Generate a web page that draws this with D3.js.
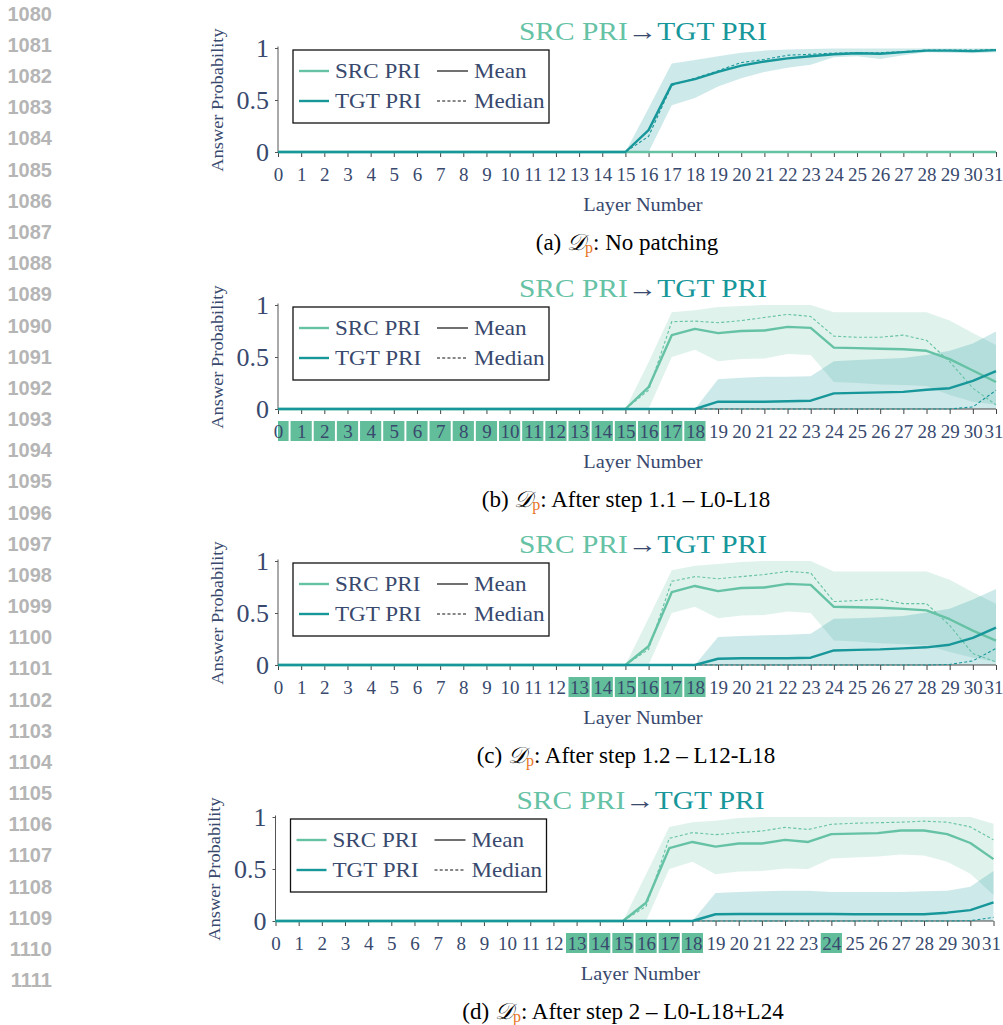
<!DOCTYPE html>
<html>
<head>
<meta charset="utf-8">
<script src="https://cdn.jsdelivr.net/npm/d3@7"></script>
<style>
  body { margin: 0; background: #fff; }
  text { font-family: "Liberation Serif", "Times New Roman", serif; }
</style>
</head>
<body>
<svg id="fig" width="1003" height="1025"></svg>
<script>
// ---- data -------------------------------------------------------------
const layers = [0,1,2,3,4,5,6,7,8,9,10,11,12,13,14,15,16,17,18,19,20,21,22,23,24,25,26,27,28,29,30,31];
const yTicks = [0, 0.5, 1];
const yTickLabels = ["0", "0.5", "1"];
const lineNumbers = [1080,1081,1082,1083,1084,1085,1086,1087,1088,1089,1090,1091,1092,1093,1094,1095,
                     1096,1097,1098,1099,1100,1101,1102,1103,1104,1105,1106,1107,1108,1109,1110,1111];
const seriesNames = ["SRC PRI", "TGT PRI"];
const statNames = ["Mean", "Median"];
const panelLetters = ["a", "b", "c", "d"];
const captionTexts = ["No patching", "After step 1.1 – L0-L18", "After step 1.2 – L12-L18", "After step 2 – L0-L18+L24"];

// (a) no patching
const srcMeanA   = [0,0,0,0,0,0,0,0,0,0,0,0,0,0,0,0,0,0,0,0,0,0,0,0,0,0,0,0,0,0,0,0];
const srcMedianA = [0,0,0,0,0,0,0,0,0,0,0,0,0,0,0,0,0,0,0,0,0,0,0,0,0,0,0,0,0,0,0,0];
const srcLoA     = [0,0,0,0,0,0,0,0,0,0,0,0,0,0,0,0,0,0,0,0,0,0,0,0,0,0,0,0,0,0,0,0];
const srcHiA     = [0,0,0,0,0,0,0,0,0,0,0,0,0,0,0,0,0,0,0,0,0,0,0,0,0,0,0,0,0,0,0,0];
const tgtMeanA   = [0,0,0,0,0,0,0,0,0,0,0,0,0,0,0,0,0.21,0.65,0.70,0.77,0.83,0.87,0.90,0.92,0.94,0.95,0.945,0.96,0.975,0.975,0.97,0.98];
const tgtMedianA = [0,0,0,0,0,0,0,0,0,0,0,0,0,0,0,0,0.15,0.64,0.71,0.78,0.86,0.89,0.93,0.94,0.95,0.955,0.955,0.965,0.98,0.98,0.98,0.985];
const tgtLoA     = [0,0,0,0,0,0,0,0,0,0,0,0,0,0,0,0,0,0.45,0.52,0.63,0.71,0.77,0.81,0.84,0.91,0.92,0.895,0.93,0.96,0.955,0.95,0.96];
const tgtHiA     = [0,0,0,0,0,0,0,0,0,0,0,0,0,0,0,0,0.42,0.85,0.885,0.92,0.955,0.975,0.985,0.99,0.995,0.995,0.995,0.995,0.995,0.995,0.995,0.995];

// (b) after step 1.1
const srcMeanB   = [0,0,0,0,0,0,0,0,0,0,0,0,0,0,0,0,0.21,0.71,0.77,0.73,0.75,0.755,0.79,0.78,0.59,0.585,0.58,0.575,0.56,0.48,0.37,0.26];
const srcMedianB = [0,0,0,0,0,0,0,0,0,0,0,0,0,0,0,0,0.18,0.84,0.845,0.83,0.85,0.88,0.91,0.89,0.70,0.69,0.69,0.71,0.66,0.455,0.20,0.04];
const srcLoB     = [0,0,0,0,0,0,0,0,0,0,0,0,0,0,0,0,0,0.50,0.57,0.46,0.48,0.485,0.53,0.52,0.26,0.25,0.235,0.23,0.22,0.135,0.07,0.04];
const srcHiB     = [0,0,0,0,0,0,0,0,0,0,0,0,0,0,0,0,0.45,0.93,0.95,0.98,0.99,1,1,1,0.93,0.93,0.93,0.93,0.93,0.85,0.73,0.615];
const tgtMeanB   = [0,0,0,0,0,0,0,0,0,0,0,0,0,0,0,0,0,0,0,0.07,0.07,0.07,0.075,0.08,0.15,0.155,0.16,0.165,0.185,0.20,0.27,0.365];
const tgtMedianB = [0,0,0,0,0,0,0,0,0,0,0,0,0,0,0,0,0,0,0,0,0,0,0,0,0,0,0,0,0,0,0.02,0.18];
const tgtLoB     = [0,0,0,0,0,0,0,0,0,0,0,0,0,0,0,0,0,0,0,0,0,0,0,0,0,0,0,0,0,0,0,0];
const tgtHiB     = [0,0,0,0,0,0,0,0,0,0,0,0,0,0,0,0,0,0,0,0.285,0.30,0.31,0.31,0.315,0.46,0.47,0.48,0.49,0.52,0.56,0.63,0.745];

// (c) after step 1.2
const srcMeanC   = [0,0,0,0,0,0,0,0,0,0,0,0,0,0,0,0,0.18,0.70,0.76,0.71,0.74,0.745,0.78,0.77,0.56,0.555,0.55,0.54,0.525,0.44,0.33,0.235];
const srcMedianC = [0,0,0,0,0,0,0,0,0,0,0,0,0,0,0,0,0.15,0.805,0.85,0.83,0.85,0.87,0.90,0.885,0.61,0.62,0.635,0.59,0.59,0.38,0.11,0.03];
const srcLoC     = [0,0,0,0,0,0,0,0,0,0,0,0,0,0,0,0,0,0.50,0.56,0.45,0.475,0.48,0.515,0.50,0.235,0.225,0.21,0.20,0.19,0.125,0.07,0.03];
const srcHiC     = [0,0,0,0,0,0,0,0,0,0,0,0,0,0,0,0,0.45,0.91,0.955,0.97,0.99,1,1,1,0.90,0.90,0.90,0.90,0.90,0.82,0.70,0.59];
const tgtMeanC   = [0,0,0,0,0,0,0,0,0,0,0,0,0,0,0,0,0,0,0,0.06,0.065,0.065,0.065,0.07,0.14,0.145,0.15,0.16,0.17,0.195,0.26,0.36];
const tgtMedianC = [0,0,0,0,0,0,0,0,0,0,0,0,0,0,0,0,0,0,0,0,0,0,0,0,0,0,0,0,0,0.005,0.04,0.16];
const tgtLoC     = [0,0,0,0,0,0,0,0,0,0,0,0,0,0,0,0,0,0,0,0,0,0,0,0,0,0,0,0,0,0,0,0];
const tgtHiC     = [0,0,0,0,0,0,0,0,0,0,0,0,0,0,0,0,0,0,0,0.27,0.28,0.285,0.29,0.30,0.445,0.45,0.46,0.47,0.505,0.54,0.63,0.73];

// (d) after step 2
const srcMeanD   = [0,0,0,0,0,0,0,0,0,0,0,0,0,0,0,0,0.175,0.70,0.76,0.715,0.745,0.745,0.78,0.76,0.835,0.84,0.845,0.87,0.87,0.835,0.75,0.595];
const srcMedianD = [0,0,0,0,0,0,0,0,0,0,0,0,0,0,0,0,0.14,0.795,0.85,0.83,0.85,0.865,0.90,0.88,0.93,0.94,0.945,0.95,0.96,0.95,0.905,0.78];
const srcLoD     = [0,0,0,0,0,0,0,0,0,0,0,0,0,0,0,0,0,0.50,0.57,0.45,0.475,0.48,0.505,0.50,0.60,0.61,0.62,0.64,0.63,0.57,0.455,0.25];
const srcHiD     = [0,0,0,0,0,0,0,0,0,0,0,0,0,0,0,0,0.45,0.905,0.95,0.965,0.99,1,1,1,1,1,1,1,1,1,1,0.935];
const tgtMeanD   = [0,0,0,0,0,0,0,0,0,0,0,0,0,0,0,0,0,0,0,0.065,0.067,0.067,0.067,0.067,0.067,0.065,0.065,0.065,0.065,0.08,0.105,0.18];
const tgtMedianD = [0,0,0,0,0,0,0,0,0,0,0,0,0,0,0,0,0,0,0,0,0,0,0,0,0,0,0,0,0,0,0.003,0.035];
const tgtLoD     = [0,0,0,0,0,0,0,0,0,0,0,0,0,0,0,0,0,0,0,0,0,0,0,0,0,0,0,0,0,0,0,0];
const tgtHiD     = [0,0,0,0,0,0,0,0,0,0,0,0,0,0,0,0,0,0,0,0.27,0.28,0.285,0.29,0.29,0.28,0.28,0.28,0.28,0.285,0.29,0.33,0.48];

// patched layers shown as shaded tick labels
const patchedA = [];
const patchedB = [0,1,2,3,4,5,6,7,8,9,10,11,12,13,14,15,16,17,18];
const patchedC = [13,14,15,16,17,18];
const patchedD = [13,14,15,16,17,18,24];

// ---- style ------------------------------------------------------------
const SERIF = "'Liberation Serif', 'Times New Roman', serif";
const SRC = "#66c2a5";
const TGT = "#17979a";
const INK = "#38496d";
const PATCH = "#62bd9b";
const CM_STRETCH = 1.1;   // widen serif text to Computer Modern proportions

const panels = [
  { letter: panelLetters[0], box: {left: 278, right: 996, top: 48, bottom: 152},
    src: {mean: srcMeanA, median: srcMedianA, lo: srcLoA, hi: srcHiA},
    tgt: {mean: tgtMeanA, median: tgtMedianA, lo: tgtLoA, hi: tgtHiA},
    patched: patchedA, caption: captionTexts[0], capX: 627 },
  { letter: panelLetters[1], box: {left: 278, right: 996, top: 305, bottom: 409},
    src: {mean: srcMeanB, median: srcMedianB, lo: srcLoB, hi: srcHiB},
    tgt: {mean: tgtMeanB, median: tgtMedianB, lo: tgtLoB, hi: tgtHiB},
    patched: patchedB, caption: captionTexts[1], capX: 626 },
  { letter: panelLetters[2], box: {left: 278, right: 996, top: 561, bottom: 665},
    src: {mean: srcMeanC, median: srcMedianC, lo: srcLoC, hi: srcHiC},
    tgt: {mean: tgtMeanC, median: tgtMedianC, lo: tgtLoC, hi: tgtHiC},
    patched: patchedC, caption: captionTexts[2], capX: 626 },
  { letter: panelLetters[3], box: {left: 275.5, right: 993.5, top: 817, bottom: 921},
    src: {mean: srcMeanD, median: srcMedianD, lo: srcLoD, hi: srcHiD},
    tgt: {mean: tgtMeanD, median: tgtMedianD, lo: tgtLoD, hi: tgtHiD},
    patched: patchedD, caption: captionTexts[3], capX: 623 }
];

const svg = d3.select("#fig");

function widen(sel, k) {
  sel.each(function () {
    const len = this.getComputedTextLength();
    d3.select(this).attr("textLength", len * k).attr("lengthAdjust", "spacingAndGlyphs");
  });
}

// margin line numbers
svg.append("g").selectAll("text").data(lineNumbers).join("text")
  .attr("x", 52).attr("y", (d, i) => 13.8 + i * 31.17)
  .attr("text-anchor", "end").attr("dominant-baseline", "central")
  .style("font-family", "'Liberation Sans', Arial, sans-serif")
  .style("font-weight", "bold").style("font-size", "20px")
  .attr("fill", "#b5b5b5")
  .text(d => d);

panels.forEach(p => {
  const b = p.box;
  const x = d3.scaleLinear().domain([0, 31]).range([b.left, b.right]);
  const y = d3.scaleLinear().domain([0, 1]).range([b.bottom, b.top]);
  const g = svg.append("g").attr("class", "panel-" + p.letter);
  const cx = (b.left + b.right) / 2 + 6;

  // title
  const title = g.append("text")
    .attr("x", cx).attr("y", b.top - 17)
    .attr("text-anchor", "middle").attr("dominant-baseline", "central")
    .style("font-family", SERIF).style("font-size", "25px");
  title.append("tspan").attr("fill", SRC).text(seriesNames[0]);
  title.append("tspan").attr("fill", INK).text("→");
  title.append("tspan").attr("fill", TGT).text(seriesNames[1]);
  title.attr("textLength", 248).attr("lengthAdjust", "spacingAndGlyphs");

  // spread bands
  const band = s => d3.area()
    .x((d, i) => x(layers[i]))
    .y0((d, i) => y(s.lo[i]))
    .y1((d, i) => y(s.hi[i]))(layers);
  g.append("path").attr("d", band(p.src)).attr("fill", SRC).attr("fill-opacity", 0.21);
  g.append("path").attr("d", band(p.tgt)).attr("fill", TGT).attr("fill-opacity", 0.21);

  // x axis, with shaded boxes behind the patched layer labels (kept inside the plot's left edge)
  g.selectAll("rect.patch").data(p.patched).join("rect")
    .attr("class", "patch")
    .attr("x", d => Math.max(x(d) - 10.6, x(0)))
    .attr("y", b.bottom + 12)
    .attr("width", d => x(d) + 10.6 - Math.max(x(d) - 10.6, x(0)))
    .attr("height", 20)
    .attr("fill", PATCH);
  const xAxis = g.append("g").attr("transform", `translate(0,${b.bottom})`)
    .call(d3.axisBottom(x).tickValues(layers).tickFormat(d3.format("d")).tickSize(5).tickPadding(11));
  xAxis.select(".domain").remove();
  xAxis.selectAll(".tick line").attr("stroke", "#444").attr("stroke-width", 1);
  xAxis.selectAll(".tick text").attr("fill", INK)
    .style("font-family", SERIF).style("font-size", "19px");
  // the last label sits against the page edge; pull it in slightly
  xAxis.selectAll(".tick").filter(d => d === layers[layers.length - 1])
    .select("text").attr("dx", -2.5);
  g.append("line").attr("x1", b.left).attr("x2", b.right)
    .attr("y1", b.bottom).attr("y2", b.bottom).attr("stroke", "#444");

  // y axis
  const yAxis = g.append("g").attr("transform", `translate(${b.left},0)`)
    .call(d3.axisLeft(y).tickValues(yTicks).tickFormat((d, i) => yTickLabels[i]).tickSize(3).tickPadding(6));
  yAxis.select(".domain").attr("stroke", "#555").attr("d", `M0,${b.bottom}V${b.top - 1.5}`);
  yAxis.selectAll(".tick line").attr("stroke", "#555");
  yAxis.selectAll(".tick text").attr("fill", INK)
    .style("font-family", SERIF).style("font-size", "26px");

  // lines: source first, target drawn on top
  const line = vals => d3.line().x((d, i) => x(layers[i])).y((d, i) => y(vals[i]))(layers);
  [[p.src, SRC], [p.tgt, TGT]].forEach(([s, col]) => {
    g.append("path").attr("d", line(s.median)).attr("fill", "none")
      .attr("stroke", col).attr("stroke-width", 1.1).attr("stroke-dasharray", "3,2.2");
    g.append("path").attr("d", line(s.mean)).attr("fill", "none")
      .attr("stroke", col).attr("stroke-width", 2.4).attr("stroke-linejoin", "round");
  });

  // axis labels
  const xl = g.append("text").attr("x", cx).attr("y", b.bottom + 53)
    .attr("text-anchor", "middle").attr("dominant-baseline", "central")
    .attr("fill", INK).style("font-family", SERIF).style("font-size", "18.5px").text("Layer Number");
  widen(xl, CM_STRETCH);
  const yl = g.append("text")
    .attr("transform", `translate(${b.left - 61},${(b.top + b.bottom) / 2}) rotate(-90)`)
    .attr("text-anchor", "middle").attr("dominant-baseline", "central")
    .attr("fill", INK).style("font-family", SERIF).style("font-size", "17px").text("Answer Probability");
  widen(yl, 1.08);

  // legend
  const lg = g.append("g").attr("transform", `translate(${b.left + 15},${b.top + 2})`);
  lg.append("rect").attr("width", 256).attr("height", 73)
    .attr("fill", "#fff").attr("stroke", "#111").attr("stroke-width", 1.3);
  const rows = [21, 51];
  [SRC, TGT].forEach((col, i) => {
    lg.append("line").attr("x1", 6).attr("x2", 36).attr("y1", rows[i]).attr("y2", rows[i])
      .attr("stroke", col).attr("stroke-width", 2.4);
    const t = lg.append("text").attr("x", 42).attr("y", rows[i]).attr("dominant-baseline", "central")
      .attr("fill", INK).style("font-family", SERIF).style("font-size", "21px").text(seriesNames[i]);
    widen(t, CM_STRETCH);
  });
  ["none", "3,2.2"].forEach((dash, i) => {
    lg.append("line").attr("x1", 144).attr("x2", 175).attr("y1", rows[i]).attr("y2", rows[i])
      .attr("stroke", "#111").attr("stroke-width", 1.2).attr("stroke-dasharray", dash);
    const t = lg.append("text").attr("x", 181).attr("y", rows[i]).attr("dominant-baseline", "central")
      .attr("fill", INK).style("font-family", SERIF).style("font-size", "21px").text(statNames[i]);
    widen(t, CM_STRETCH);
  });

  // caption
  const cap = g.append("text").attr("x", p.capX).attr("y", b.bottom + 90)
    .attr("text-anchor", "middle").attr("dominant-baseline", "central")
    .attr("fill", "#000").style("font-family", SERIF).style("font-size", "23px");
  cap.append("tspan").text(`(${p.letter}) `);
  cap.append("tspan").style("font-style", "italic").text("𝒟");
  cap.append("tspan").attr("fill", "#e8741e").attr("dy", 5).style("font-size", "16px").text("p");
  cap.append("tspan").attr("dy", -5).text(": " + p.caption);
});
</script>
</body>
</html>
